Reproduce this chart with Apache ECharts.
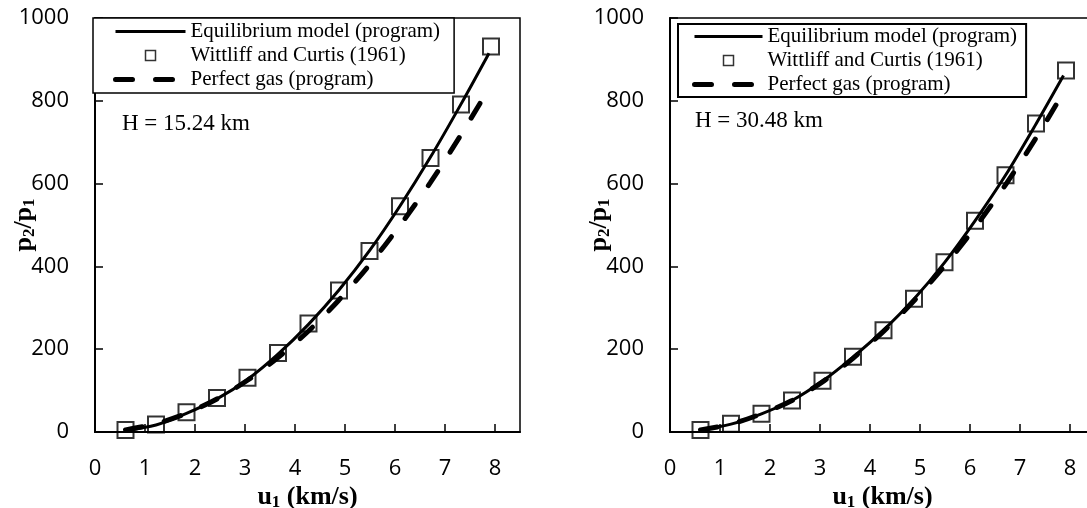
<!DOCTYPE html>
<html>
<head>
<meta charset="utf-8">
<script src="https://cdn.jsdelivr.net/npm/echarts@6/dist/echarts.min.js"></script>
<style>
html,body{margin:0;padding:0;background:#fff;}
#chart{width:1087px;height:508px;}
</style>
</head>
<body>
<div id="chart"></div>
<script>
// ---- data ----
const xTicks = [0, 1, 2, 3, 4, 5, 6, 7, 8];
const yTicks = [0, 200, 400, 600, 800, 1000];
const seriesNames = ['Equilibrium model (program)', 'Wittliff and Curtis (1961)', 'Perfect gas (program)'];
const panelLabels = ['H = 15.24 km', 'H = 30.48 km'];

// Wittliff and Curtis (1961) experimental points (u1 in km/s)
const uWC = [0.61, 1.22, 1.83, 2.44, 3.05, 3.66, 4.27, 4.88, 5.49, 6.10, 6.71, 7.32, 7.92];
const wcLeft = [5, 18, 48, 82, 131, 191, 262, 342, 437, 545, 662, 791, 931];
const wcRight = [5, 20, 44, 76, 124, 182, 246, 322, 410, 510, 620, 745, 873];

// Equilibrium model (program)
const uEqLeft = [0.61, 1.22, 1.83, 2.44, 3.05, 3.66, 4.27, 4.88, 5.49, 6.10, 6.71, 7.32, 7.88];
const eqLeft = [4, 17, 45, 80, 127, 188, 260, 343, 438, 546, 664, 792, 915];
const uEqRight = [0.61, 1.22, 1.83, 2.44, 3.05, 3.66, 4.27, 4.88, 5.49, 6.10, 6.71, 7.32, 7.87];
const eqRight = [5, 19, 44, 76, 123, 181, 246, 321, 409, 510, 620, 744, 861];

// Perfect gas (program)
const uPg = [0.61, 1.22, 1.83, 2.44, 3.05, 3.66, 4.27, 4.88, 5.49, 6.10, 6.71, 7.32, 7.77];
const pgLeft = [5, 20, 45, 80, 125, 180, 244, 319, 404, 499, 603, 718, 808];
const pgRight = [5, 19, 44, 76, 121, 178, 243, 317, 401, 494, 597, 710, 800];

// ---- build ----
const zip = (a, b) => a.map((v, i) => [v, b[i]]);
const serif = '"Liberation Serif", "Times New Roman", serif';
const sans = '"Open Sans", "Liberation Sans", sans-serif';

const grids = [
  {left: 95, top: 18, width: 425, height: 414},
  {left: 670, top: 18, width: 425, height: 414}
];

const nameStyle = {
  fontFamily: serif, fontWeight: 'bold', fontSize: 26, color: '#000',
  rich: {s: {fontFamily: serif, fontWeight: 'bold', fontSize: 17, color: '#000', verticalAlign: 'bottom', padding: [11, 0, 0, 0]}}
};

const eqLine = {color: '#000', width: 3};
const pgLine = {color: '#000', width: 5, type: [17, 23], cap: 'round'};

function xAxis(i) {
  return {
    type: 'value', gridIndex: i, min: xTicks[0], max: 8.5, interval: 1,
    name: 'u{s|1} (km/s)', nameLocation: 'middle', nameGap: 51, nameMoveOverlap: false,
    nameTextStyle: nameStyle,
    axisLine: {show: true, onZero: false, lineStyle: {color: '#000', width: 2}},
    axisTick: {show: true, inside: true, length: 8, lineStyle: {color: '#000', width: 1.5}},
    axisLabel: {
      show: true, margin: 26, fontFamily: sans, fontSize: 22, color: '#000', showMaxLabel: false,
      formatter: v => (xTicks.indexOf(v) >= 0 ? String(v) : '')
    },
    splitLine: {show: false}
  };
}
function yAxis(i) {
  return {
    type: 'value', gridIndex: i, min: yTicks[0], max: yTicks[yTicks.length - 1], interval: 200,
    name: 'p{s|2}/p{s|1}', nameLocation: 'middle', nameGap: 57, nameRotate: 90, nameMoveOverlap: false,
    nameTextStyle: nameStyle,
    axisLine: {show: true, onZero: false, lineStyle: {color: '#000', width: 2}},
    axisTick: {show: true, inside: true, length: 8, lineStyle: {color: '#000', width: 1.5}},
    axisLabel: {show: true, margin: 26, fontFamily: sans, fontSize: 22, color: '#000', formatter: v => String(v)},
    splitLine: {show: false}
  };
}

function panelSeries(i, eqU, eq, wc, pg) {
  return [
    {
      name: seriesNames[0], type: 'line', xAxisIndex: i, yAxisIndex: i,
      data: zip(eqU, eq), smooth: 0.3, symbol: 'none', z: 3,
      itemStyle: {color: '#000'},
      lineStyle: eqLine
    },
    {
      name: seriesNames[1], type: 'scatter', xAxisIndex: i, yAxisIndex: i,
      data: zip(uWC, wc), symbol: 'rect', symbolSize: 16, z: 4,
      itemStyle: {color: 'rgba(255,255,255,0)', borderColor: '#000', borderWidth: 2}
    },
    {
      name: seriesNames[2], type: 'line', xAxisIndex: i, yAxisIndex: i,
      data: zip(uPg, pg), smooth: 0.3, symbol: 'none', z: 2,
      itemStyle: {color: '#000'},
      lineStyle: pgLine
    }
  ];
}

function legend(i, left, top, padding, itemWidth, borderWidth) {
  return {
    left: left, top: top, orient: 'vertical', align: 'left',
    data: [
      {name: seriesNames[0], itemStyle: {opacity: 0}, lineStyle: eqLine},
      {name: seriesNames[1], icon: 'path://M0,0L10,0L10,10L0,10Z', itemStyle: {color: 'rgba(255,255,255,0)', borderColor: '#000', borderWidth: 1.5}},
      {name: seriesNames[2], itemStyle: {opacity: 0}, lineStyle: pgLine}
    ],
    padding: padding, itemWidth: itemWidth, itemHeight: 10, itemGap: 3,
    borderColor: '#000', borderWidth: borderWidth, backgroundColor: '#fff',
    selectedMode: false,
    textStyle: {fontFamily: serif, fontSize: 21, color: '#000', lineHeight: 20}
  };
}

const chart = echarts.init(document.getElementById('chart'), null, {renderer: 'canvas'});
chart.setOption({
  animation: false,
  backgroundColor: '#fff',
  grid: grids.map(g => Object.assign({show: true, borderColor: '#000', borderWidth: 1.5, backgroundColor: 'transparent', containLabel: false, outerBoundsMode: 'none'}, g)),
  xAxis: [xAxis(0), xAxis(1)],
  yAxis: [yAxis(0), yAxis(1)],
  legend: [
    legend(0, 93, 18, [3, 14, 3, 20], 70, 1.5),
    legend(1, 678, 24, [2, 9, 2, 14], 68, 2)
  ],
  graphic: [
    {type: 'text', left: 122, top: 112, style: {text: panelLabels[0], font: '23px ' + serif, fill: '#000'}},
    {type: 'text', left: 695, top: 109, style: {text: panelLabels[1], font: '23px ' + serif, fill: '#000'}}
  ],
  series: [
    ...panelSeries(0, uEqLeft, eqLeft, wcLeft, pgLeft),
    ...panelSeries(1, uEqRight, eqRight, wcRight, pgRight)
  ]
});
</script>
</body>
</html>
